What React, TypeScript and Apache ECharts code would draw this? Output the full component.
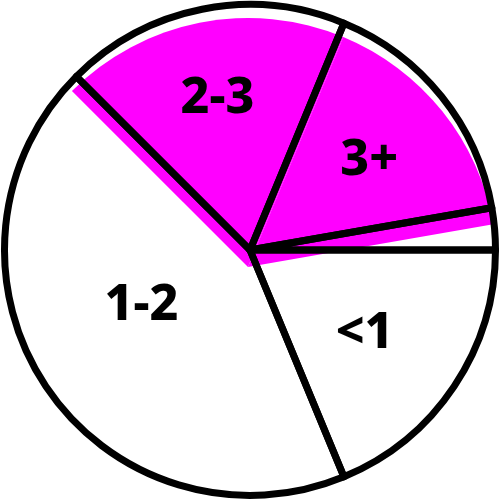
import React, { useEffect, useRef } from "react";
import * as echarts from "echarts";

// Slice shares (percent), counter-clockwise from east
const categories = ["", "3+", "2-3", "1-2", "<1"];
const values = [2.75, 16, 18.75, 43.75, 18.75];
const highlighted = ["3+", "2-3"];

// label nudges (style only)
const LABEL_SHIFT: Record<string, [number, number]> = {
  "3+": [21, -15],
  "2-3": [-8, -33],
  "1-2": [-4, -19],
  "<1": [10, 9],
};

const MAGENTA = "#ff00ff";

export default function App() {
  const ref = useRef<HTMLDivElement>(null);
  useEffect(() => {
    if (!ref.current) return;
    const chart = echarts.init(ref.current, null, { renderer: "svg" });
    const outlineData = categories.map((name, i) => ({
      name,
      value: values[i],
      label: { show: name !== "" },
    }));
    const fillData = categories.map((name, i) => ({
      name,
      value: values[i],
      itemStyle: {
        color: highlighted.includes(name) ? MAGENTA : "rgba(0,0,0,0)",
      },
    }));
    chart.setOption({
      animation: false,
      backgroundColor: "#ffffff",
      series: [
        {
          type: "pie",
          center: [248, 267],
          radius: [0, 249],
          startAngle: 0,
          clockwise: false,
          silent: true,
          label: { show: false },
          labelLine: { show: false },
          itemStyle: { borderWidth: 0 },
          emphasis: { disabled: true },
          data: fillData,
        },
        {
          type: "pie",
          center: [250, 250],
          radius: [0, 245.5],
          startAngle: 0,
          clockwise: false,
          silent: true,
          itemStyle: {
            color: "rgba(0,0,0,0)",
            borderColor: "#000",
            borderWidth: 7,
          },
          label: {
            position: "inside",
            formatter: "{b}",
            color: "#000",
            fontSize: 50,
            fontWeight: 800,
            fontFamily: "Noto Sans",
            textBorderWidth: 0,
          },
          labelLine: { show: false },
          labelLayout: (params: any) => {
            const name = outlineData[params.dataIndex]?.name ?? "";
            const s = LABEL_SHIFT[name] || [0, 0];
            return { dx: s[0], dy: s[1] };
          },
          emphasis: { disabled: true },
          data: outlineData,
        },
      ],
    });
    return () => chart.dispose();
  }, []);
  return (
    <div
      ref={ref}
      style={{ position: "absolute", left: 0, top: 0, width: 500, height: 500 }}
    />
  );
}
